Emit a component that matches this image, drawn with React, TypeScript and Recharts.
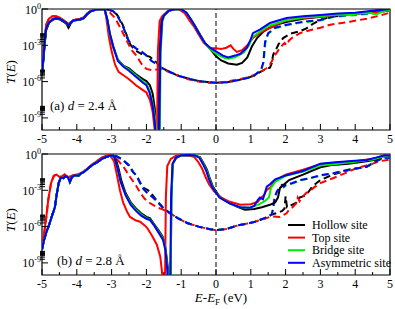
import React from 'react';
import { LineChart, Line, XAxis, YAxis, ReferenceLine, ReferenceArea } from 'recharts';

type Pt = [number, number];

// x: E - E_F (eV), y: log10 T(E)

// ---------- panel (a), d = 2.4 A ----------
const aLeftBase: Pt[] = [
  [-5, -5.3], [-4.96, -4.0], [-4.92, -2.6], [-4.88, -1.6], [-4.8, -1.1], [-4.7, -0.85], [-4.6, -0.75],
  [-4.5, -0.8], [-4.4, -0.95], [-4.3, -1.15], [-4.24, -1.35], [-4.18, -1.15], [-4.1, -0.95], [-4.0, -0.9],
  [-3.9, -0.85], [-3.8, -0.75], [-3.7, -0.4], [-3.6, -0.2], [-3.45, -0.05], [-3.3, 0], [-3.2, -0.02],
];
const aLeftHollow: Pt[] = [
  [-5, -5.4], [-4.96, -4.2], [-4.92, -2.8], [-4.88, -1.7], [-4.8, -1.15], [-4.7, -0.9], [-4.6, -0.8],
  [-4.5, -0.85], [-4.4, -1.0], [-4.3, -1.2], [-4.24, -1.55], [-4.18, -1.2], [-4.1, -0.95], [-4.0, -0.92],
  [-3.9, -0.88], [-3.8, -0.78], [-3.7, -0.42], [-3.6, -0.2], [-3.45, -0.05], [-3.3, 0], [-3.2, -0.02],
];
const aLeftTop: Pt[] = [
  [-5, -5.0], [-4.96, -3.6], [-4.92, -2.2], [-4.88, -1.3], [-4.8, -0.8], [-4.7, -0.6], [-4.6, -0.6],
  [-4.5, -0.7], [-4.4, -0.9], [-4.3, -1.1], [-4.24, -1.25], [-4.18, -1.1], [-4.1, -0.95], [-4.0, -0.85],
  [-3.9, -0.8], [-3.8, -0.7], [-3.7, -0.35], [-3.6, -0.15], [-3.45, -0.03], [-3.3, 0], [-3.2, -0.02],
];

const aHollowSolidRight: Pt[] = [
  [-3.12, -0.9], [-3.05, -2.2], [-2.95, -3.2], [-2.82, -4.2], [-2.65, -4.7], [-2.5, -4.9], [-2.3, -5.4],
  [-2.1, -5.8], [-2.0, -5.95], [-1.9, -6.3], [-1.82, -7.0], [-1.76, -8.2], [-1.71, -10.5], [-1.68, -12],
  [-1.66, -12], [-1.62, -3.5], [-1.57, -1.0], [-1.5, -0.55], [-1.35, -0.15], [-1.15, 0], [-1.0, -0.02],
  [-0.85, -0.3], [-0.7, -0.95], [-0.6, -1.4], [-0.46, -2.1], [-0.32, -2.8], [-0.17, -3.3], [0, -3.9],
  [0.15, -4.25], [0.35, -4.5], [0.6, -4.6], [0.75, -4.45], [0.9, -4.0], [1.03, -3.1], [1.18, -2.4],
  [1.35, -1.9], [1.55, -1.55], [1.8, -1.25], [2.05, -1.05], [2.5, -0.8], [3.0, -0.65], [3.5, -0.45],
  [4.0, -0.35], [4.33, -0.25], [4.7, -0.1], [5, 0],
];
const aTopSolidRight: Pt[] = [
  [-3.15, -0.8], [-3.08, -2.3], [-3.0, -3.5], [-2.9, -4.6], [-2.8, -5.2], [-2.65, -5.5], [-2.5, -5.8],
  [-2.3, -6.3], [-2.1, -6.7], [-2.0, -6.9], [-1.9, -7.5], [-1.82, -8.5], [-1.76, -10], [-1.72, -12],
  [-1.7, -12], [-1.67, -3.5], [-1.62, -1.0], [-1.55, -0.6], [-1.4, -0.2], [-1.2, 0], [-1.05, -0.05],
  [-0.9, -0.35], [-0.75, -1.0], [-0.62, -1.5], [-0.5, -2.1], [-0.35, -2.8], [-0.17, -3.25], [0, -3.25],
  [0.15, -3.3], [0.3, -3.2], [0.42, -3.0], [0.5, -3.3], [0.6, -3.55], [0.75, -3.4], [0.9, -3.0],
  [1.06, -2.4], [1.3, -1.9], [1.55, -1.55], [2.03, -0.9], [2.5, -0.75], [3.0, -0.65], [3.5, -0.45],
  [4.0, -0.35], [4.5, -0.3], [5, -0.1],
];
const aBridgeSolidRight: Pt[] = [
  [-3.12, -0.9], [-3.05, -2.1], [-2.95, -3.1], [-2.82, -4.2], [-2.65, -4.75], [-2.5, -5.0], [-2.3, -5.5],
  [-2.1, -6.0], [-2.0, -6.2], [-1.9, -6.8], [-1.82, -7.8], [-1.75, -9.0], [-1.7, -10.5], [-1.66, -12],
  [-1.62, -12], [-1.59, -3.5], [-1.54, -1.0], [-1.48, -0.5], [-1.35, -0.12], [-1.15, 0], [-1.0, -0.02],
  [-0.85, -0.3], [-0.7, -0.95], [-0.6, -1.45], [-0.46, -2.15], [-0.32, -2.8], [-0.17, -3.3], [0, -3.7],
  [0.2, -4.0], [0.35, -4.1], [0.55, -4.0], [0.8, -3.6], [0.95, -3.0], [1.05, -2.3], [1.2, -2.0],
  [1.5, -1.4], [2.0, -0.95], [2.5, -0.7], [3.0, -0.6], [3.5, -0.45], [3.9, -0.5], [4.1, -0.35],
  [4.4, -0.3], [4.6, -0.45], [4.8, -0.2], [5, -0.05],
];
const aAsymSolidRight: Pt[] = [
  [-3.12, -0.9], [-3.05, -2.0], [-2.95, -3.1], [-2.82, -4.3], [-2.65, -4.8], [-2.5, -5.1], [-2.3, -5.6],
  [-2.1, -6.1], [-2.0, -6.3], [-1.9, -7.0], [-1.82, -8.0], [-1.76, -9.3], [-1.72, -11], [-1.66, -12],
  [-1.64, -12], [-1.6, -3.5], [-1.55, -1.0], [-1.5, -0.55], [-1.35, -0.12], [-1.15, 0], [-1.0, -0.02],
  [-0.85, -0.3], [-0.7, -0.95], [-0.6, -1.45], [-0.46, -2.15], [-0.32, -2.8], [-0.17, -3.2], [0, -3.5],
  [0.2, -3.85], [0.35, -4.0], [0.55, -3.85], [0.7, -3.7], [0.89, -3.2], [1.0, -2.5], [1.06, -2.0],
  [1.26, -1.7], [1.55, -1.15], [2.03, -0.75], [2.5, -0.6], [3.0, -0.5], [3.5, -0.38], [4.0, -0.3],
  [4.5, -0.15], [5, 0],
];

const aHollowDashRight: Pt[] = [
  [-3.05, -0.08], [-2.95, -0.2], [-2.85, -0.45], [-2.75, -0.9], [-2.65, -1.5], [-2.55, -2.3], [-2.45, -3.0],
  [-2.3, -3.45], [-2.15, -3.7], [-2.0, -3.85], [-1.9, -3.95], [-1.8, -4.2], [-1.7, -4.45], [-1.6, -4.8],
  [-1.4, -5.1], [-1.1, -5.5], [-0.8, -5.75], [-0.5, -5.95], [-0.2, -6.05], [0, -6.1], [0.3, -6.05],
  [0.6, -5.9], [0.9, -5.7], [1.1, -5.5], [1.3, -5.15], [1.45, -4.95], [1.55, -4.85], [1.6, -4.5],
  [1.64, -3.8], [1.7, -3.4], [1.75, -3.2], [1.8, -2.9], [1.93, -2.4], [2.13, -2.05], [2.4, -1.85],
  [2.6, -1.6], [2.8, -1.2], [3.0, -0.9], [3.3, -0.65], [3.6, -0.55], [4.0, -0.4], [4.5, -0.3], [5, -0.05],
];
const aTopDashRight: Pt[] = [
  [-3.05, -0.3], [-2.9, -0.75], [-2.75, -1.55], [-2.6, -2.4], [-2.45, -3.3], [-2.3, -3.8], [-2.15, -4.5],
  [-2.0, -4.95], [-1.85, -5.05], [-1.7, -5.0], [-1.55, -4.95], [-1.4, -5.15], [-1.1, -5.5], [-0.8, -5.8],
  [-0.5, -6.0], [-0.2, -6.1], [0, -6.1], [0.3, -6.0], [0.6, -5.85], [0.9, -5.65], [1.1, -5.45],
  [1.3, -5.15], [1.45, -4.9], [1.55, -4.6], [1.7, -3.8], [1.84, -3.2], [1.97, -2.8], [2.03, -3.0],
  [2.1, -2.6], [2.18, -2.4], [2.41, -2.0], [2.7, -1.75], [3.0, -1.55], [3.28, -1.3], [3.85, -1.05],
  [4.33, -0.8], [4.7, -0.55], [5, -0.3],
];
const aBridgeDashRight: Pt[] = [
  [-3.05, -0.08], [-2.95, -0.2], [-2.85, -0.5], [-2.75, -1.0], [-2.65, -1.6], [-2.55, -2.4], [-2.45, -2.9],
  [-2.3, -3.25], [-2.15, -3.5], [-2.0, -3.85], [-1.85, -4.3], [-1.7, -4.55], [-1.6, -4.8], [-1.4, -5.1],
  [-1.1, -5.5], [-0.8, -5.75], [-0.5, -5.95], [-0.2, -6.05], [0, -6.1], [0.3, -6.05], [0.6, -5.9],
  [0.9, -5.7], [1.1, -5.5], [1.3, -5.0], [1.37, -4.4], [1.42, -2.8], [1.5, -2.05], [1.7, -1.6],
  [2.03, -1.35], [2.5, -1.1], [3.0, -0.95], [3.4, -0.65], [3.8, -0.55], [4.2, -0.45], [4.6, -0.35], [5, -0.1],
];
const aAsymDashRight: Pt[] = [
  [-3.05, -0.08], [-2.95, -0.2], [-2.85, -0.5], [-2.75, -1.0], [-2.65, -1.6], [-2.55, -2.4], [-2.45, -2.9],
  [-2.3, -3.25], [-2.15, -3.5], [-2.0, -3.85], [-1.85, -4.3], [-1.7, -4.55], [-1.6, -4.8], [-1.4, -5.1],
  [-1.1, -5.5], [-0.8, -5.75], [-0.5, -5.95], [-0.2, -6.05], [0, -6.1], [0.3, -6.05], [0.6, -5.9],
  [0.9, -5.7], [1.1, -5.5], [1.3, -5.0], [1.36, -4.4], [1.41, -2.7], [1.5, -2.0], [1.7, -1.55],
  [2.03, -1.3], [2.5, -1.05], [3.0, -0.9], [3.4, -0.6], [3.8, -0.5], [4.2, -0.4], [4.6, -0.3], [5, -0.1],
];

// ---------- panel (b), d = 2.8 A ----------
const bLeftBase: Pt[] = [
  [-5, -7.9], [-4.95, -7.2], [-4.88, -6.5], [-4.8, -5.9], [-4.7, -5.0], [-4.63, -4.4], [-4.57, -3.2],
  [-4.52, -2.4], [-4.46, -1.95], [-4.38, -2.0], [-4.32, -1.8], [-4.25, -1.95], [-4.2, -2.3], [-4.14, -1.9],
  [-4.05, -1.75], [-3.95, -1.8], [-3.88, -1.6], [-3.8, -1.5], [-3.68, -1.2], [-3.55, -0.9], [-3.4, -0.65],
  [-3.28, -0.4], [-3.16, -0.25], [-3.05, -0.15], [-2.95, -0.12],
];
const bLeftTop: Pt[] = [
  [-5, -7.5], [-4.95, -6.8], [-4.88, -5.3], [-4.82, -3.8], [-4.74, -2.4], [-4.66, -1.8], [-4.58, -1.7],
  [-4.5, -1.9], [-4.42, -1.85], [-4.35, -1.7], [-4.25, -1.9], [-4.18, -1.85], [-4.1, -1.75], [-4.0, -1.7],
  [-3.9, -1.6], [-3.8, -1.45], [-3.68, -1.15], [-3.55, -0.85], [-3.4, -0.55], [-3.28, -0.3], [-3.16, -0.15],
  [-3.05, -0.1],
];

const bHollowSolidRight: Pt[] = [
  [-2.88, -0.4], [-2.8, -1.2], [-2.72, -2.2], [-2.6, -3.2], [-2.45, -4.0], [-2.3, -4.5], [-2.15, -4.9],
  [-2.0, -5.2], [-1.9, -5.3], [-1.78, -5.8], [-1.65, -6.3], [-1.52, -6.9], [-1.45, -7.8], [-1.38, -9.5],
  [-1.34, -12], [-1.31, -12], [-1.28, -3.5], [-1.24, -0.8], [-1.15, -0.35], [-1.0, -0.12], [-0.8, -0.1],
  [-0.6, -0.15], [-0.46, -0.25], [-0.35, -0.8], [-0.26, -1.3], [-0.18, -2.0], [-0.09, -2.7], [0.11, -3.55],
  [0.4, -4.05], [0.6, -4.35], [0.83, -4.6], [1.1, -4.55], [1.32, -4.4], [1.55, -4.2], [1.7, -4.0],
  [1.78, -3.6], [1.84, -2.8], [2.1, -2.15], [2.5, -1.7], [3.0, -1.1], [3.36, -0.9], [3.8, -0.8],
  [4.33, -0.6], [4.6, -0.45], [4.8, -0.2], [5, -0.25],
];
const bTopSolidRight: Pt[] = [
  [-2.93, -0.6], [-2.85, -1.7], [-2.76, -3.0], [-2.67, -4.0], [-2.55, -4.8], [-2.47, -5.2], [-2.3, -5.5],
  [-2.18, -5.6], [-2.05, -5.9], [-1.98, -6.1], [-1.85, -6.7], [-1.7, -7.5], [-1.6, -8.5], [-1.55, -9.8],
  [-1.5, -12], [-1.47, -12], [-1.44, -3.5], [-1.4, -1.0], [-1.3, -0.4], [-1.15, -0.15], [-1.0, -0.1],
  [-0.8, -0.1], [-0.62, -0.25], [-0.5, -0.7], [-0.4, -1.2], [-0.3, -1.9], [-0.2, -2.5], [-0.05, -3.1],
  [0.15, -3.6], [0.4, -3.95], [0.7, -4.2], [1.0, -4.15], [1.2, -3.95], [1.3, -3.6], [1.38, -3.4],
  [1.45, -3.0], [1.55, -2.8], [1.7, -2.2], [2.0, -1.7], [2.5, -1.3], [3.0, -0.85], [3.5, -0.7],
  [4.0, -0.6], [4.5, -0.4], [4.8, -0.15], [5, -0.1],
];
const bBridgeSolidRight: Pt[] = [
  [-2.9, -0.45], [-2.82, -1.3], [-2.74, -2.3], [-2.6, -3.35], [-2.45, -4.1], [-2.3, -4.6], [-2.15, -5.0],
  [-2.0, -5.3], [-1.9, -5.4], [-1.78, -5.85], [-1.65, -6.4], [-1.52, -7.0], [-1.45, -7.9], [-1.39, -9.6],
  [-1.35, -12], [-1.31, -12], [-1.28, -3.5], [-1.24, -0.8], [-1.15, -0.3], [-1.0, -0.1], [-0.8, -0.08],
  [-0.6, -0.12], [-0.47, -0.28], [-0.37, -0.8], [-0.27, -1.35], [-0.19, -2.05], [-0.1, -2.75],
  [0.1, -3.6], [0.4, -4.1], [0.7, -4.4], [0.95, -4.45], [1.2, -4.2], [1.4, -3.9], [1.52, -3.6],
  [1.58, -2.8], [1.7, -2.3], [2.0, -1.8], [2.5, -1.45], [3.0, -0.95], [3.5, -0.8], [4.0, -0.65],
  [4.5, -0.45], [4.8, -0.2], [5, -0.2],
];
const bAsymSolidRight: Pt[] = [
  [-2.9, -0.45], [-2.82, -1.3], [-2.74, -2.3], [-2.6, -3.4], [-2.45, -4.2], [-2.3, -4.7], [-2.15, -5.1],
  [-2.0, -5.35], [-1.9, -5.45], [-1.78, -5.9], [-1.65, -6.5], [-1.52, -7.1], [-1.45, -8.0], [-1.4, -9.6],
  [-1.36, -12], [-1.32, -12], [-1.29, -3.5], [-1.25, -0.8], [-1.15, -0.3], [-1.0, -0.1], [-0.8, -0.08],
  [-0.6, -0.12], [-0.48, -0.3], [-0.38, -0.8], [-0.28, -1.4], [-0.2, -2.1], [-0.1, -2.8], [0.1, -3.6],
  [0.4, -4.1], [0.7, -4.4], [0.95, -4.45], [1.1, -4.3], [1.2, -3.8], [1.26, -3.6], [1.35, -3.75],
  [1.46, -2.7], [1.55, -2.5], [1.7, -2.1], [2.03, -1.75], [2.5, -1.4], [3.0, -0.8], [3.36, -0.7],
  [3.8, -0.6], [4.33, -0.5], [4.6, -0.3], [4.85, -0.1], [5, -0.15],
];

const bHollowDashRight: Pt[] = [
  [-2.85, -0.2], [-2.67, -0.5], [-2.5, -0.95], [-2.38, -1.5], [-2.28, -1.8], [-2.18, -2.35], [-2.08, -2.8],
  [-1.95, -3.0], [-1.85, -3.3], [-1.7, -3.85], [-1.52, -4.45], [-1.32, -4.9], [-1.1, -5.3], [-0.83, -5.7],
  [-0.5, -6.0], [-0.2, -6.2], [0, -6.3], [0.3, -6.2], [0.63, -5.9], [0.9, -5.75], [1.12, -5.6],
  [1.4, -5.3], [1.6, -5.0], [1.78, -4.85], [1.9, -4.7], [1.97, -4.5], [2.0, -3.5], [2.04, -4.4],
  [2.15, -4.25], [2.3, -4.05], [2.4, -3.6], [2.5, -3.5], [2.62, -3.3], [2.76, -2.7], [3.0, -2.15],
  [3.36, -1.7], [3.85, -1.3], [4.33, -1.05], [4.6, -0.6], [4.8, -0.3], [5, -0.3],
];
const bTopDashRight: Pt[] = [
  [-2.95, -0.12], [-2.85, -0.4], [-2.75, -0.75], [-2.67, -1.0], [-2.47, -1.9], [-2.3, -2.6], [-2.18, -3.2],
  [-2.05, -3.7], [-1.9, -4.05], [-1.7, -4.4], [-1.52, -4.6], [-1.32, -4.9], [-1.1, -5.3], [-0.83, -5.7],
  [-0.5, -6.0], [-0.2, -6.2], [0, -6.3], [0.3, -6.2], [0.63, -5.9], [0.9, -5.75], [1.12, -5.6],
  [1.4, -5.35], [1.6, -5.15], [1.84, -5.2], [2.03, -4.9], [2.1, -4.6], [2.2, -4.4], [2.3, -4.1],
  [2.35, -3.6], [2.4, -3.9], [2.5, -3.5], [2.6, -3.2], [2.7, -3.1], [2.8, -2.8], [3.0, -2.4],
  [3.36, -2.0], [3.7, -1.6], [4.05, -1.15], [4.4, -0.9], [4.7, -0.6], [5, -0.45],
];
const bBridgeDashRight: Pt[] = [
  [-2.85, -0.2], [-2.67, -0.5], [-2.5, -0.95], [-2.38, -1.5], [-2.28, -1.8], [-2.18, -2.4], [-2.08, -2.9],
  [-1.98, -3.2], [-1.85, -3.5], [-1.7, -3.9], [-1.52, -4.45], [-1.32, -4.9], [-1.1, -5.3], [-0.83, -5.7],
  [-0.5, -6.0], [-0.2, -6.2], [0, -6.3], [0.3, -6.2], [0.63, -5.9], [0.9, -5.75], [1.12, -5.6],
  [1.4, -5.3], [1.6, -5.0], [1.65, -4.5], [1.69, -3.6], [1.76, -3.1], [1.85, -2.75], [1.9, -2.6],
  [1.95, -2.75], [2.0, -2.6], [2.2, -2.45], [2.41, -2.2], [2.7, -2.0], [3.0, -1.8], [3.36, -1.6],
  [3.8, -1.3], [4.33, -1.05], [4.6, -0.6], [4.8, -0.3], [5, -0.3],
];
const bAsymDashRight: Pt[] = [
  [-2.85, -0.2], [-2.67, -0.5], [-2.5, -0.95], [-2.38, -1.5], [-2.28, -1.8], [-2.18, -2.4], [-2.08, -2.9],
  [-1.98, -3.2], [-1.85, -3.5], [-1.7, -3.9], [-1.52, -4.45], [-1.32, -4.9], [-1.1, -5.3], [-0.83, -5.7],
  [-0.5, -6.0], [-0.2, -6.2], [0, -6.3], [0.3, -6.2], [0.63, -5.9], [0.9, -5.75], [1.12, -5.6],
  [1.4, -5.3], [1.6, -5.0], [1.64, -4.5], [1.68, -3.6], [1.75, -3.1], [1.84, -2.7], [1.9, -2.55],
  [1.95, -2.7], [2.0, -2.55], [2.2, -2.4], [2.41, -2.15], [2.7, -2.0], [3.0, -1.75], [3.36, -1.6],
  [3.8, -1.3], [4.33, -1.05], [4.6, -0.6], [4.8, -0.3], [5, -0.3],
];

const siteNames = ['Hollow site', 'Top site', 'Bridge site', 'Asymmetric site'];
const siteColors = ['#000000', '#ff0000', '#00ee00', '#0000ff'];

const xTicks = [-5, -4.5, -4, -3.5, -3, -2.5, -2, -1.5, -1, -0.5, 0, 0.5, 1, 1.5, 2, 2.5, 3, 3.5, 4, 4.5, 5];
const yMajor = [0, -3, -6, -9];
const minorOffsets = [0.301, 0.477, 0.602, 0.699, 0.778, 0.845, 0.903, 0.954];
const yTicks = [...yMajor, ...yMajor.slice(1).flatMap((m) => minorOffsets.map((o) => m + o))];

const toRows = (pts: Pt[]) => pts.map(([x, y]) => ({ x, y }));

const panelA = {
  solid: [
    [...aLeftHollow, ...aHollowSolidRight],
    [...aLeftTop, ...aTopSolidRight],
    [...aLeftBase, ...aBridgeSolidRight],
    [...aLeftBase, ...aAsymSolidRight],
  ],
  dash: [
    [...aLeftHollow, ...aHollowDashRight],
    [...aLeftTop, ...aTopDashRight],
    [...aLeftBase, ...aBridgeDashRight],
    [...aLeftBase, ...aAsymDashRight],
  ],
};
const panelB = {
  solid: [
    [...bLeftBase, ...bHollowSolidRight],
    [...bLeftTop, ...bTopSolidRight],
    [...bLeftBase, ...bBridgeSolidRight],
    [...bLeftBase, ...bAsymSolidRight],
  ],
  dash: [
    [...bLeftBase, ...bHollowDashRight],
    [...bLeftTop, ...bTopDashRight],
    [...bLeftBase, ...bBridgeDashRight],
    [...bLeftBase, ...bAsymDashRight],
  ],
};

const FONT = 'Liberation Serif, Times New Roman, serif';

const XTick = (props: any) => {
  const { x, y, payload } = props;
  const v = payload.value;
  const major = Number.isInteger(v);
  return (
    <g>
      <line x1={x} x2={x} y1={y} y2={y - (major ? 6 : 3)} stroke="#000" strokeWidth={1} />
      {major && (
        <text x={x} y={y + 12.5} textAnchor="middle" fontSize={12} fontFamily={FONT} fill="#000">
          {v}
        </text>
      )}
    </g>
  );
};

const YTick = (props: any) => {
  const { x, y, payload } = props;
  const v = payload.value;
  const major = yMajor.includes(v);
  if (!major) {
    return <line x1={x - 2} x2={x + 3} y1={y} y2={y} stroke="#000" strokeWidth={1} />;
  }
  return (
    <g>
      <line x1={x} x2={x + 6} y1={y} y2={y} stroke="#000" strokeWidth={1} />
      <text x={x - 1} y={y + 4.5} textAnchor="end" fontSize={12} fontFamily={FONT} fill="#000">
        10
        <tspan dy={-5} fontSize={8}>
          {v}
        </tspan>
      </text>
    </g>
  );
};

function Panel({ data }: { data: { solid: Pt[][]; dash: Pt[][] } }) {
  return (
    <LineChart width={395} height={150} margin={{ top: 9, right: 5, bottom: 0, left: 0 }}>
      <XAxis
        type="number"
        dataKey="x"
        domain={[-5, 5]}
        ticks={xTicks}
        interval={0}
        tick={(p: any) => <XTick {...p} />}
        tickLine={false}
        tickSize={0}
        tickMargin={0}
        axisLine={false}
        height={20}
        allowDataOverflow
      />
      <YAxis
        type="number"
        domain={[-10, 0]}
        ticks={yTicks}
        interval={0}
        tick={(p: any) => <YTick {...p} />}
        tickLine={false}
        tickSize={0}
        tickMargin={0}
        axisLine={false}
        width={42}
        allowDataOverflow
      />
      <ReferenceArea x1={-5} x2={5} y1={-10} y2={0} fill="none" stroke="#000" strokeWidth={1.2} />
      <ReferenceLine x={0} stroke="#000" strokeWidth={1} strokeDasharray="5 3" />
      {data.dash.map((pts, i) => (
        <Line
          key={'d' + i}
          data={toRows(pts)}
          dataKey="y"
          type="linear"
          stroke={siteColors[i]}
          strokeWidth={2}
          strokeDasharray="7 4"
          dot={false}
          isAnimationActive={false}
        />
      ))}
      {data.solid.map((pts, i) => (
        <Line
          key={'s' + i}
          data={toRows(pts)}
          dataKey="y"
          type="linear"
          stroke={siteColors[i]}
          strokeWidth={2}
          dot={false}
          isAnimationActive={false}
        />
      ))}
    </LineChart>
  );
}

export default function App() {
  return (
    <div style={{ position: 'absolute', left: 0, top: 0, width: 395, height: 309, background: '#fff', fontFamily: FONT }}>
      <div style={{ position: 'absolute', left: 0, top: 0 }}>
        <Panel data={panelA} />
      </div>
      <div style={{ position: 'absolute', left: 0, top: 145 }}>
        <Panel data={panelB} />
      </div>
      <svg width={395} height={309} style={{ position: 'absolute', left: 0, top: 0, pointerEvents: 'none', fontFamily: FONT }}>
        <text transform="translate(14.5,72) rotate(-90)" textAnchor="middle" fontSize={13}>
          <tspan fontStyle="italic">T</tspan>(<tspan fontStyle="italic">E</tspan>)
        </text>
        <text transform="translate(14.5,220) rotate(-90)" textAnchor="middle" fontSize={13}>
          <tspan fontStyle="italic">T</tspan>(<tspan fontStyle="italic">E</tspan>)
        </text>
        <text x={50} y={110} fontSize={13}>
          (a) <tspan fontStyle="italic">d</tspan> = 2.4 Å
        </text>
        <text x={57} y={265} fontSize={13}>
          (b) <tspan fontStyle="italic">d</tspan> = 2.8 Å
        </text>
        <text x={221} y={302} textAnchor="middle" fontSize={13}>
          <tspan fontStyle="italic">E</tspan>-<tspan fontStyle="italic">E</tspan>
          <tspan dy={3} fontSize={9}>F</tspan>
          <tspan dy={-3}> (eV)</tspan>
        </text>
        {siteNames.map((name, i) => (
          <g key={name}>
            <line x1={288} x2={305} y1={225 + i * 12.6} y2={225 + i * 12.6} stroke={siteColors[i]} strokeWidth={2} />
            <text x={312} y={229 + i * 12.6} fontSize={12}>
              {name}
            </text>
          </g>
        ))}
      </svg>
    </div>
  );
}
